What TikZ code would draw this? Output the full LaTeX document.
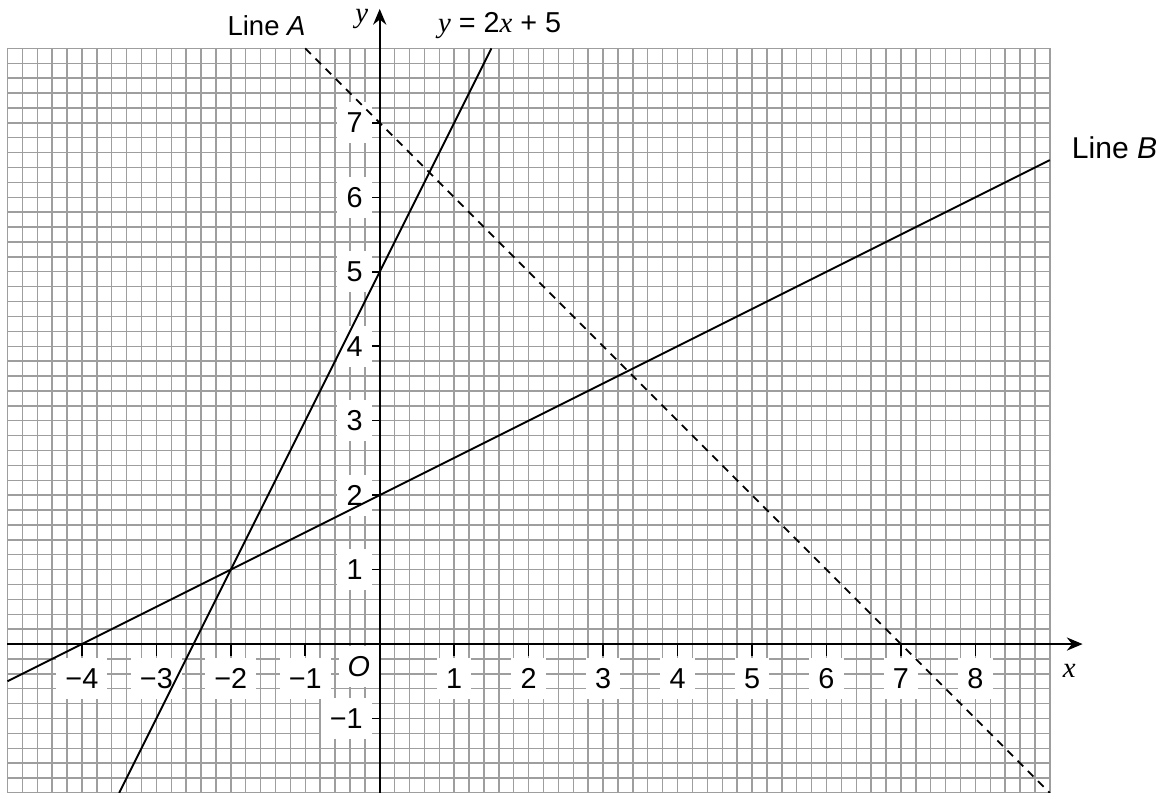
\documentclass[tikz,border=0pt]{standalone}
\usepackage{fontspec}
\setmainfont{Liberation Sans}
\newfontfamily\varfont{Liberation Serif}
\usetikzlibrary{arrows.meta}

\begin{document}
\begin{tikzpicture}[>={Stealth[length=6pt,width=5pt]},
                    font=\fontsize{11}{13}\selectfont,
                    gridline/.style={draw=black!38, line width=0.55pt},
                    axis/.style={->, line width=0.9pt},
                    graphline/.style={line width=0.7pt},
                    ticklabel/.style={fill=white, inner xsep=3.5pt, inner ysep=4pt}]
  \useasboundingbox (-5.1,-2.0) rectangle (10.52,8.65);

  % Grid
  \foreach \i in {-25,...,45}
    \draw[gridline] (\i/5,-2) -- (\i/5,8);
  \foreach \j in {-10,...,40}
    \draw[gridline] (-5,\j/5) -- (9,\j/5);

  % Tick labels
  \foreach \x/\t in {-4/−4,-3/−3,-2/−2,-1/−1,1/1,2/2,3/3,4/4,5/5,6/6,7/7,8/8}
    \node[ticklabel] (xl\x) at (\x,-0.46) {\t};
  \foreach \y/\t in {-1/−1,1/1,2/2,3/3,4/4,5/5,6/6,7/7}
    \node[ticklabel, anchor=east] (yl\y) at (-0.1,\y) {\t};
  \node[ticklabel] (origin) at (-0.28,-0.3) {\textit{O}};

  % Axes
  \coordinate (xmin) at (-5,0);
  \coordinate (xmax) at (9.44,0);
  \coordinate (ymin) at (0,-2);
  \coordinate (ymax) at (0,8.53);
  \draw[axis] (xmin) -- (xmax);
  \draw[axis] (ymin) -- (ymax);
  \node (xlab) at (9.26,-0.36) {\varfont\itshape x};
  \node (ylab) at (-0.24,8.39) {\varfont\itshape y};

  % Ticks
  \foreach \x in {-4,-3,-2,-1,1,2,3,4,5,6,7,8}
    \draw[line width=0.6pt] (\x,0) -- (\x,-0.16);
  \foreach \y in {-1,1,2,3,4,5,6,7}
    \draw[line width=0.6pt] (0,\y) -- (-0.1,\y);

  % Lines
  \coordinate (aLow) at (-3.5,-2);
  \coordinate (aHigh) at (1.5,8);
  \coordinate (bLow) at (-5,-0.5);
  \coordinate (bHigh) at (9,6.5);
  \coordinate (cHigh) at (-1,8);
  \coordinate (cLow) at (9,-2);
  \draw[graphline] (aLow) -- (aHigh);
  \draw[graphline] (bLow) -- (bHigh);
  \draw[graphline, dash pattern=on 3pt off 2.5pt] (cHigh) -- (cLow);

  % Labels
  \node (lineA) at (-1.52,8.31) {\fontsize{10.5}{12}\selectfont Line \textit{A}};
  \node (lineAeq) at (1.61,8.31) {{\varfont\itshape y} = 2{\varfont\itshape x} + 5};
  \node[anchor=west, inner sep=0pt] (lineB) at (9.29,6.66) {\fontsize{11.5}{13}\selectfont Line \textit{B}};
\end{tikzpicture}
\end{document}
